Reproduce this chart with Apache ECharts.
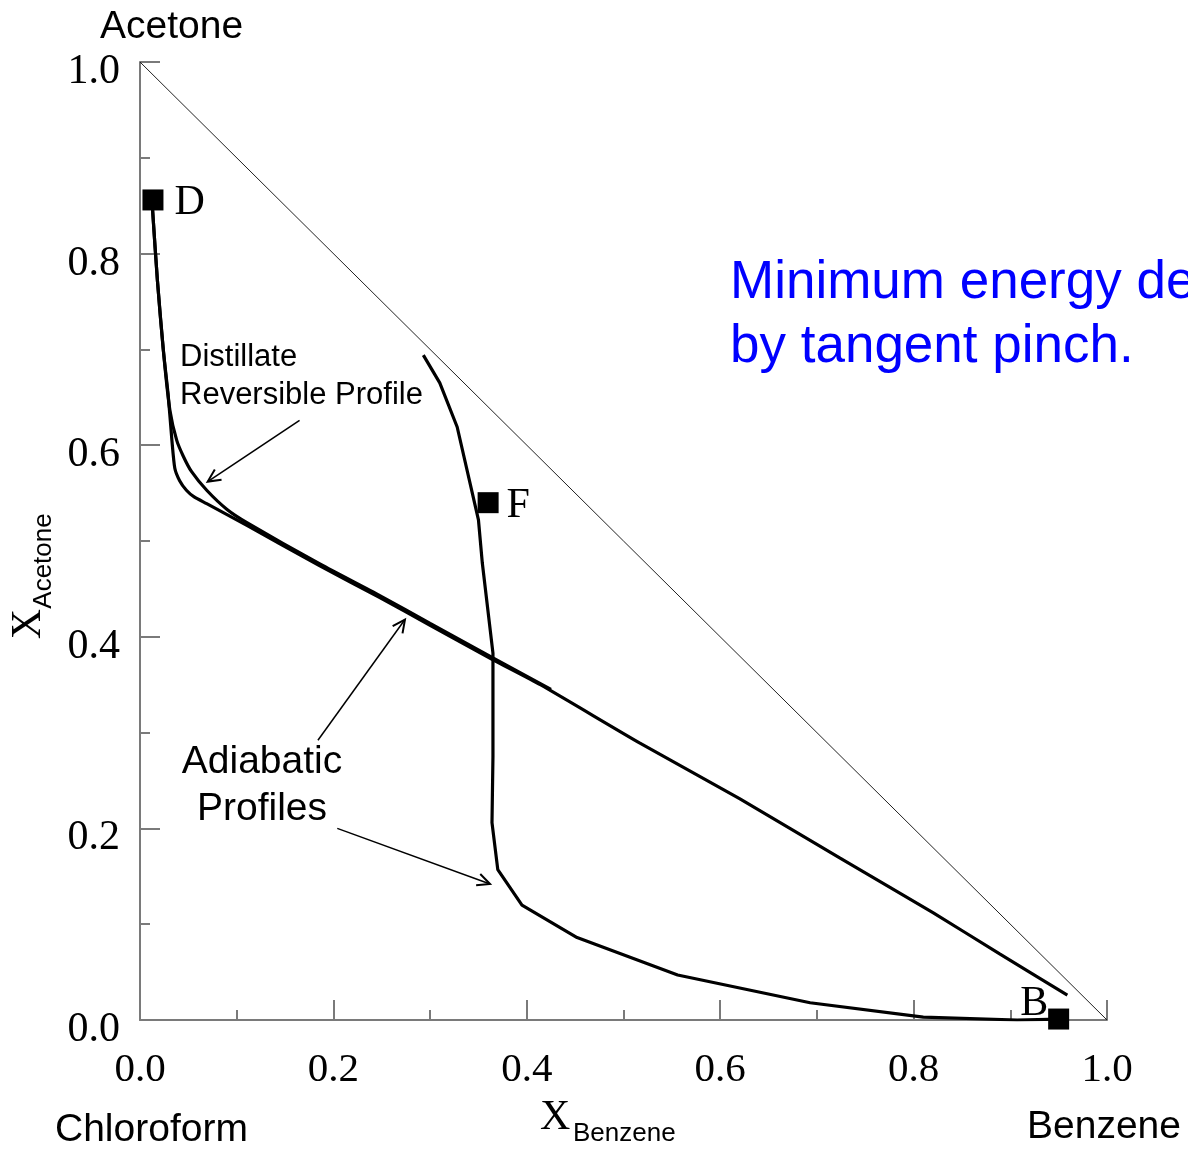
<!DOCTYPE html>
<html>
<head>
<meta charset="utf-8">
<script src="https://cdn.jsdelivr.net/npm/echarts@6/dist/echarts.min.js"></script>
<style>
  html, body { margin: 0; padding: 0; background: #fff; }
  #chart { width: 1188px; height: 1149px; }
</style>
</head>
<body>
<div id="chart"></div>
<script>
// Ternary composition space (chloroform / acetone / benzene) on right-triangle axes
const xTicks = [0, 0.2, 0.4, 0.6, 0.8, 1.0];
const yTicks = [0, 0.2, 0.4, 0.6, 0.8, 1.0];

// Triangle hypotenuse: chloroform-free edge
const edgeLine = [[0, 1], [1, 0]];

// Adiabatic profile leaving the distillate, running down toward the bottoms
const adiabaticTop = [
  [0.013, 0.846], [0.018, 0.772], [0.024, 0.700], [0.029, 0.654], [0.033, 0.605],
  [0.036, 0.576], [0.041, 0.563], [0.048, 0.553], [0.056, 0.546], [0.069, 0.539],
  [0.111, 0.516], [0.186, 0.474], [0.248, 0.441], [0.300, 0.412], [0.365, 0.376],
  [0.414, 0.350], [0.517, 0.289], [0.620, 0.231], [0.724, 0.169], [0.820, 0.112],
  [0.889, 0.069], [0.959, 0.026]
];

// Distillate reversible profile
const reversibleProfile = [
  [0.013, 0.846], [0.018, 0.772], [0.025, 0.690], [0.031, 0.636], [0.038, 0.605],
  [0.045, 0.588], [0.053, 0.573], [0.069, 0.553], [0.090, 0.533], [0.111, 0.519],
  [0.186, 0.476], [0.248, 0.443], [0.300, 0.414], [0.365, 0.378], [0.425, 0.345]
];

// Adiabatic profile through the feed composition
const adiabaticFeed = [
  [0.293, 0.694], [0.310, 0.665], [0.328, 0.619], [0.350, 0.522], [0.354, 0.477],
  [0.365, 0.383], [0.365, 0.334], [0.365, 0.275], [0.364, 0.206], [0.370, 0.157],
  [0.395, 0.120], [0.452, 0.086], [0.556, 0.047], [0.693, 0.018], [0.810, 0.003],
  [0.907, 0.000], [0.950, 0.001]
];

// Product and feed compositions
const streamNames = ['D', 'F', 'B'];
const streamPoints = [[0.0134, 0.856], [0.360, 0.540], [0.950, 0.001]];

const serif = '"Liberation Serif", "Times New Roman", serif';
const sans = '"Liberation Sans", Arial, sans-serif';
const axisGray = '#7a7a7a';

const chart = echarts.init(document.getElementById('chart'));

const axisCommon = {
  type: 'value', min: 0, max: 1, interval: 0.2,
  axisLine: { show: true, onZero: false, lineStyle: { color: axisGray, width: 2 } },
  axisTick: { show: true, inside: true, length: 20, lineStyle: { color: axisGray, width: 2 } },
  minorTick: { show: true, splitNumber: 2, length: 10, lineStyle: { color: axisGray, width: 2 } },
  splitLine: { show: false },
  minorSplitLine: { show: false }
};

const fmtTick = ticks => v => ticks.includes(+v.toFixed(1)) ? '{t|' + v.toFixed(1) + '}' : '';

const streamLabelPos = {
  D: { position: 'right', distance: 11, offset: [0, 3] },
  F: { position: 'right', distance: 8, offset: [0, 3] },
  B: { position: 'left', distance: 0, offset: [0, -15] }
};

chart.setOption({
  animation: false,
  backgroundColor: '#fff',
  grid: { left: 140, top: 62, width: 967, height: 958, containLabel: false },
  xAxis: Object.assign({}, axisCommon, {
    axisLabel: {
      margin: 30, color: '#000', formatter: fmtTick(xTicks),
      rich: { t: { fontFamily: serif, fontSize: 41, color: '#000' } }
    }
  }),
  yAxis: Object.assign({}, axisCommon, {
    axisLabel: {
      margin: 20, color: '#000', formatter: fmtTick(yTicks),
      rich: { t: { fontFamily: serif, fontSize: 42, color: '#000', padding: [20, 0, 0, 0] } }
    }
  }),
  series: [
    {
      type: 'line', data: edgeLine, symbol: 'none', silent: true,
      lineStyle: { color: '#222', width: 1 }
    },
    {
      type: 'line', data: reversibleProfile, symbol: 'none', smooth: 0.25,
      lineStyle: { color: '#000', width: 3.2 }
    },
    {
      type: 'line', data: adiabaticTop, symbol: 'none', smooth: 0.2,
      lineStyle: { color: '#000', width: 3.2 }
    },
    {
      type: 'line', data: adiabaticFeed, symbol: 'none',
      lineStyle: { color: '#000', width: 3.2 }
    },
    {
      type: 'scatter', symbol: 'rect', symbolSize: 21, z: 5,
      itemStyle: { color: '#000', opacity: 1 },
      data: streamPoints.map((p, i) => ({
        value: p, name: streamNames[i],
        label: Object.assign({
          show: true, formatter: streamNames[i],
          fontFamily: serif, fontSize: 42, color: '#000'
        }, streamLabelPos[streamNames[i]])
      }))
    }
  ]
});

// Annotation arrows, anchored in composition coordinates
const arrows = [
  { from: [0.165, 0.626], to: [0.070, 0.562] },
  { from: [0.184, 0.292], to: [0.274, 0.418] },
  { from: [0.204, 0.200], to: [0.362, 0.142] }
];

const graphics = [];
arrows.forEach(a => {
  const p0 = chart.convertToPixel({ gridIndex: 0 }, a.from);
  const p1 = chart.convertToPixel({ gridIndex: 0 }, a.to);
  const ang = Math.atan2(p1[1] - p0[1], p1[0] - p0[0]);
  const head = 14, spread = Math.PI / 7;
  const h1 = [p1[0] - head * Math.cos(ang - spread), p1[1] - head * Math.sin(ang - spread)];
  const h2 = [p1[0] - head * Math.cos(ang + spread), p1[1] - head * Math.sin(ang + spread)];
  graphics.push({
    type: 'line', shape: { x1: p0[0], y1: p0[1], x2: p1[0], y2: p1[1] },
    style: { stroke: '#000', lineWidth: 1.5 }
  });
  graphics.push({
    type: 'polyline', shape: { points: [h1, p1, h2] },
    style: { stroke: '#000', lineWidth: 2, fill: null }
  });
});

function txt(x, y, text, font, size, opts) {
  return Object.assign({
    type: 'text', x: x, y: y,
    style: Object.assign({
      text: text, fontFamily: font, fontSize: size, fill: '#000',
      align: 'left', verticalAlign: 'middle'
    }, (opts && opts.style) || {})
  }, (opts && opts.el) || {});
}

graphics.push(
  txt(100, 27, 'Acetone', sans, 39),
  txt(55, 1130, 'Chloroform', sans, 39),
  txt(1027, 1127, 'Benzene', sans, 39),
  txt(540, 1118, 'X', serif, 42),
  txt(573, 1134, 'Benzene', sans, 26),
  txt(180, 357, 'Distillate', sans, 31),
  txt(180, 395, 'Reversible Profile', sans, 31),
  txt(262, 762, 'Adiabatic', sans, 39, { style: { align: 'center' } }),
  txt(262, 809, 'Profiles', sans, 39, { style: { align: 'center' } }),
  txt(730, 283, 'Minimum energy determined', sans, 53, { style: { fill: '#0000ff' } }),
  txt(730, 347, 'by tangent pinch.', sans, 53, { style: { fill: '#0000ff' } }),
  txt(29, 624, 'X', serif, 42, { el: { rotation: Math.PI / 2 }, style: { align: 'center' } }),
  txt(44, 561, 'Acetone', sans, 26, { el: { rotation: Math.PI / 2 }, style: { align: 'center' } })
);

chart.setOption({ graphic: graphics });
</script>
</body>
</html>
